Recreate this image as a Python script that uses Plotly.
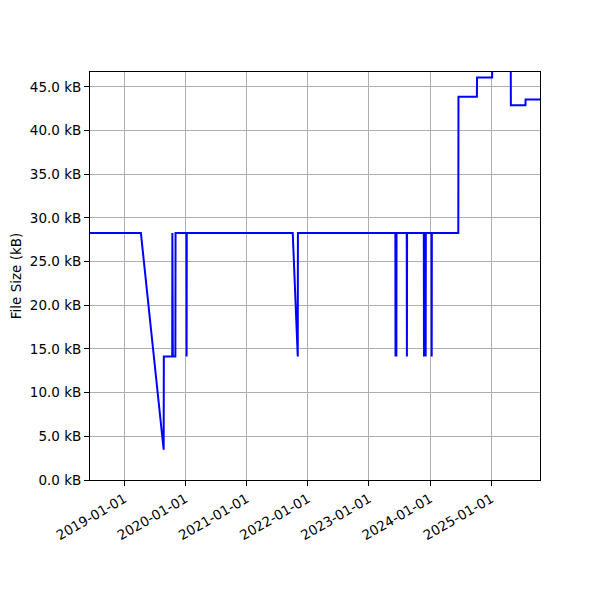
import plotly.graph_objects as go
import pandas as pd

# commit dates and file size (kB)
dates = [
    "2018-06-10", "2019-04-10", "2019-08-24", "2019-08-25", "2019-10-14",
    "2019-10-15", "2019-10-18", "2019-11-02", "2019-11-03", "2020-01-07",
    "2020-01-08", "2020-01-09", "2021-10-03", "2021-11-02", "2021-11-03",
    "2023-06-08", "2023-06-09", "2023-06-10", "2023-06-13", "2023-06-14",
    "2023-06-15", "2023-08-15", "2023-08-16", "2023-08-17", "2023-11-25",
    "2023-11-26", "2023-11-27", "2023-11-30", "2023-12-01", "2023-12-02",
    "2023-12-05", "2023-12-06", "2023-12-07", "2024-01-10", "2024-01-11",
    "2024-01-12", "2024-06-18", "2024-06-19", "2024-10-07", "2024-10-08",
    "2025-01-06", "2025-01-07", "2025-04-27", "2025-04-28", "2025-07-24",
    "2025-07-25", "2025-10-19",
]
sizes_kb = [
    28.27, 28.27, 3.46, 14.13, 14.13,
    28.27, 14.13, 14.13, 28.27, 28.27,
    14.13, 28.27, 28.27, 14.13, 28.27,
    28.27, 14.13, 28.27, 28.27, 14.13,
    28.27, 28.27, 14.13, 28.27, 28.27,
    14.13, 28.27, 28.27, 14.13, 28.27,
    28.27, 14.13, 28.27, 28.27, 14.13,
    28.27, 28.27, 43.86, 43.86, 46.07,
    46.07, 49.0, 49.0, 42.9, 42.9,
    43.56, 43.56,
]
x_ticks = ["2019-01-01", "2020-01-01", "2021-01-01", "2022-01-01",
           "2023-01-01", "2024-01-01", "2025-01-01"]
y_ticks = [0, 5, 10, 15, 20, 25, 30, 35, 40, 45]
y_labels = [f"{v:.1f} kB" for v in y_ticks]

df = pd.DataFrame({"date": pd.to_datetime(dates), "size": sizes_kb})

fig = go.Figure()
fig.add_trace(go.Scatter(
    x=df["date"], y=df["size"], mode="lines",
    line=dict(color="blue", width=2),
    showlegend=False,
))

axis_common = dict(
    showline=True, linecolor="black", linewidth=1, mirror=True,
    showgrid=True, gridcolor="#b0b0b0", gridwidth=1,
    ticks="outside", ticklen=5, tickwidth=1, tickcolor="black",
    zeroline=False, automargin=False,
)

# the page adds ~8px body margin, so shift plot area up/left by that much
fig.update_layout(
    width=600, height=600,
    margin=dict(l=82, r=68, t=64, b=128),
    plot_bgcolor="white", paper_bgcolor="white",
    font=dict(family="DejaVu Sans", size=13.5, color="black"),
    xaxis=dict(
        range=[df["date"].iloc[0], df["date"].iloc[-1]],
        tickvals=x_ticks, ticktext=x_ticks, tickangle=-30,
        **axis_common,
    ),
    yaxis=dict(
        range=[0, 46.7], tickvals=y_ticks, ticktext=y_labels,
        title=dict(text="File Size (kB)", standoff=8, font=dict(size=13.5)),
        **axis_common,
    ),
)

fig.write_html("out.html")
